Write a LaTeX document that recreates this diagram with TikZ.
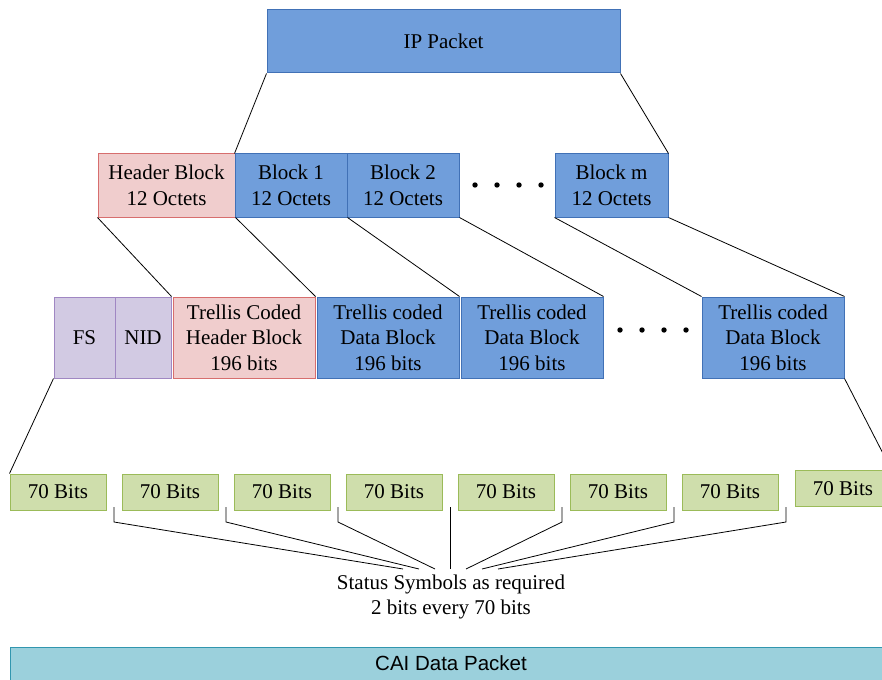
\documentclass[tikz,border=0pt]{standalone}
\usepackage{fontspec}
\setmainfont{Liberation Serif}
\newfontfamily\arialf{Liberation Sans}
\definecolor{blueF}{RGB}{112,158,219}
\definecolor{blueD}{RGB}{65,113,182}
\definecolor{pinkF}{RGB}{240,205,205}
\definecolor{pinkD}{RGB}{215,110,110}
\definecolor{purpF}{RGB}{210,202,227}
\definecolor{purpD}{RGB}{160,135,195}
\definecolor{greenF}{RGB}{207,222,172}
\definecolor{greenD}{RGB}{155,187,89}
\definecolor{tealF}{RGB}{155,208,220}
\definecolor{tealD}{RGB}{49,150,175}
\tikzset{
  bx/.style={draw, line width=1pt, inner sep=0pt, align=center, font=\fontsize{21}{25.5}\selectfont},
  bluebox/.style={bx, fill=blueF, draw=blueD},
  pinkbox/.style={bx, fill=pinkF, draw=pinkD},
  purpbox/.style={bx, fill=purpF, draw=purpD},
  greenbox/.style={bx, fill=greenF, draw=greenD, minimum width=96pt, minimum height=36pt},
  conn/.style={line width=0.8pt, black},
  dotmark/.style={fill=black},
  txt/.style={inner sep=0pt, align=center, font=\fontsize{21}{25}\selectfont}
}
\begin{document}
\begin{tikzpicture}[x=1pt,y=-1pt]
\clip (0,0) rectangle (882,679);
\fill[white] (0,0) rectangle (882,679);

% Row 1
\node[bluebox, minimum width=353pt, minimum height=63pt] (ip) at (443.5,41.5) {IP Packet};

% Row 2
\node[pinkbox, minimum width=137pt, minimum height=63pt] (hb) at (166.5,185.5) {Header Block\\12 Octets};
\node[bluebox, minimum width=112pt, minimum height=63pt] (b1) at (291,185.5) {Block 1\\12 Octets};
\node[bluebox, minimum width=112pt, minimum height=63pt] (b2) at (403,185.5) {Block 2\\12 Octets};
\node[bluebox, minimum width=113pt, minimum height=63pt] (bm) at (611.5,185.5) {Block m\\12 Octets};
\foreach \x in {475,497,519,541} \fill[dotmark] (\x,185) circle (2.7pt);

% Row 3
\node[purpbox, minimum width=61pt, minimum height=81pt] (fs) at (84.5,337.5) {FS};
\node[purpbox, minimum width=56pt, minimum height=81pt] (nid) at (143,337.5) {NID};
\node[pinkbox, minimum width=142pt, minimum height=81pt] (th) at (244,337.5) {Trellis Coded\\Header Block\\196 bits};
\node[bluebox, minimum width=142pt, minimum height=81pt] (d1) at (388,337.5) {Trellis coded\\Data Block\\196 bits};
\node[bluebox, minimum width=142pt, minimum height=81pt] (d2) at (532,337.5) {Trellis coded\\Data Block\\196 bits};
\node[bluebox, minimum width=142pt, minimum height=81pt] (dl) at (773,337.5) {Trellis coded\\Data Block\\196 bits};
\foreach \x in {620,642,664,686} \fill[dotmark] (\x,330) circle (2.7pt);

% Row 4
\node[greenbox] (g1) at (58,492) {70 Bits};
\node[greenbox] (g2) at (170,492) {70 Bits};
\node[greenbox] (g3) at (282,492) {70 Bits};
\node[greenbox] (g4) at (394,492) {70 Bits};
\node[greenbox] (g5) at (506,492) {70 Bits};
\node[greenbox] (g6) at (618,492) {70 Bits};
\node[greenbox] (g7) at (730,492) {70 Bits};
\node[greenbox] (g8) at (843,488.5) {70 Bits};

% Connectors row 1 -> row 2
\draw[conn] (ip.south west) -- (b1.north west);
\draw[conn] (ip.south east) -- (bm.north east);
% Row 2 -> row 3
\draw[conn] (hb.south west) -- (nid.north east);
\draw[conn] (hb.south east) -- (th.north east);
\draw[conn] (b1.south east) -- (d1.north east);
\draw[conn] (b2.south east) -- (d2.north east);
\draw[conn] (bm.south west) -- (dl.north west);
\draw[conn] (bm.south east) -- (dl.north east);
% Row 3 -> row 4
\draw[conn] (fs.south west) -- (g1.north west);
\draw[conn] (dl.south east) -- (g8.north east);

% Status symbol fan
\coordinate (s1) at (114,507); \coordinate (e1) at (403,569);
\coordinate (s2) at (226,507); \coordinate (e2) at (419,569);
\coordinate (s3) at (338,507); \coordinate (e3) at (435,569);
\coordinate (s4) at (450,507); \coordinate (e4) at (450,569);
\coordinate (s5) at (562,507); \coordinate (e5) at (466,569);
\coordinate (s6) at (674,507); \coordinate (e6) at (482,569);
\coordinate (s7) at (786,507); \coordinate (e7) at (498,569);
\foreach \i in {1,2,3,5,6,7} \draw[conn] (s\i) -- ++(0,15) -- (e\i);
\draw[conn] (s4) -- (e4);

\node[txt] (st) at (451,597) {Status Symbols as required\\2 bits every 70 bits};

% CAI bar
\node[draw=tealD, fill=tealF, line width=1pt, minimum width=885pt, minimum height=36pt, inner sep=0pt, anchor=north west] (cai) at (10,646.5) {};
\node[inner sep=0pt, font=\arialf\fontsize{20.5}{24}\selectfont] (caitext) at (451,663) {CAI Data Packet};
\end{tikzpicture}
\end{document}
